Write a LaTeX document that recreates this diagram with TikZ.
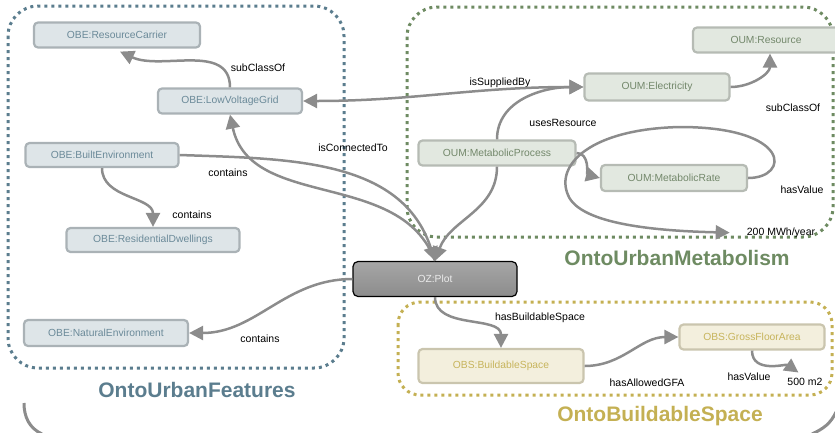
\documentclass[tikz,border=0pt]{standalone}
\usepackage{fontspec}
\setmainfont{Liberation Sans}
\usepackage{tikz}
\usetikzlibrary{arrows.meta,calc,positioning}
\definecolor{featblue}{HTML}{5B7D8E}
\definecolor{metagreen}{HTML}{6E8B62}
\definecolor{buildgold}{HTML}{C4B053}
\definecolor{linegray}{HTML}{8C8C8C}
\tikzset{
    rel/.style={-{Triangle[length=14pt,width=14pt]}, line width=2.5pt, draw=linegray},
    box/.style={rounded corners=4pt, line width=2.2pt, minimum height=25pt, inner sep=2pt,
                font=\fontsize{10.3}{12}\selectfont},
    obe/.style={box, draw=gray!60!featblue!60, fill=featblue!20, text=featblue!90},
    oum/.style={box, draw=gray!70!metagreen!55, fill=metagreen!20, text=metagreen!70!gray},
    obs/.style={box, draw=gray!55!buildgold!55, fill=buildgold!20, text=buildgold!95},
    el/.style={inner sep=1pt, font=\fontsize{10.5}{12}\selectfont, text=black},
    grp/.style={line width=3pt, dash pattern=on 3pt off 4pt, rounded corners=30pt},
    title/.style={font=\fontsize{21}{24}\selectfont\bfseries}
}

\begin{document}
\begin{tikzpicture}[x=1pt,y=1pt]
\useasboundingbox (0,0) rectangle (835,-432);

% ---- ontology frames ----
\draw[grp, draw=featblue] (8,-6) rectangle (344,-368);
\draw[grp, draw=metagreen] (407,-7) rectangle (833,-237);
\draw[grp, draw=buildgold, rounded corners=22pt] (398,-302) rectangle (832,-395);
\node[title, text=featblue] (tf) at (197,-390) {OntoUrbanFeatures};
\node[title, text=metagreen] (tm) at (677,-258) {OntoUrbanMetabolism};
\node[title, text=buildgold] (tb) at (660,-416) {OntoBuildableSpace};

% ---- outer frame (corners only) ----
\draw[line width=3pt, draw=linegray] (24,-403) to[out=-90,in=155] (42,-434);
\draw[line width=3pt, draw=linegray] (812,-434) to[out=25,in=-115] (836,-412);

% ---- OntoUrbanFeatures ----
\node[obe, minimum width=166pt] (rc) at (117,-35) {OBE:ResourceCarrier};
\node[obe, minimum width=144pt] (lvg) at (230,-101) {OBE:LowVoltageGrid};
\node[obe, minimum width=153pt, minimum height=24pt] (be) at (102,-155) {OBE:BuiltEnvironment};
\node[obe, minimum width=173pt, minimum height=24pt] (rd) at (153,-240) {OBE:ResidentialDwellings};
\node[obe, minimum width=164pt, minimum height=26pt] (ne) at (106,-333) {OBE:NaturalEnvironment};

% ---- plot ----
\node[box, minimum width=164pt, minimum height=35pt, rounded corners=5pt, line width=1.2pt,
      draw=black, top color=gray!70, bottom color=gray!90, text=white!92!black] (pl) at (435,-279) {OZ:Plot};

% ---- OntoUrbanMetabolism ----
\node[oum, minimum width=146pt] (res) at (766,-40) {OUM:Resource};
\node[oum, minimum width=145pt, minimum height=27pt] (el) at (657,-87) {OUM:Electricity};
\node[oum, minimum width=157pt] (mp) at (497,-153) {OUM:MetabolicProcess};
\node[oum, minimum width=146pt, minimum height=26pt] (mr) at (674,-178) {OUM:MetabolicRate};
\node[el] (v200) at (781,-233) {200 MWh/year};

% ---- OntoBuildableSpace ----
\node[obs, minimum width=165pt, minimum height=34pt] (bs) at (501,-366) {OBS:BuildableSpace};
\node[obs, minimum width=145pt] (gfa) at (752,-337) {OBS:GrossFloorArea};
\node[el] (v500) at (805,-382) {500 m2};

% ---- edge labels ----
\node[el] (l1) at (258,-68) {subClassOf};
\node[el] (l2) at (500,-83) {isSuppliedBy};
\node[el] (l3) at (563,-123) {usesResource};
\node[el] (l4) at (353,-148) {isConnectedTo};
\node[el] (l5) at (228,-173) {contains};
\node[el] (l6) at (192,-215) {contains};
\node[el] (l7) at (260,-339) {contains};
\node[el] (l8) at (793,-108) {subClassOf};
\node[el] (l9) at (802,-190) {hasValue};
\node[el] (l10) at (540,-318) {hasBuildableSpace};
\node[el] (l11) at (647,-383) {hasAllowedGFA};
\node[el] (l12) at (749,-377) {hasValue};

% ---- edges ----
\draw[rel] (lvg.north) to[out=90,in=-25] ([xshift=3pt,yshift=-3pt]rc.south);
\draw[rel, {Triangle[length=14pt,width=14pt]}-{Triangle[length=14pt,width=14pt]}]
  (lvg.east) to[out=0,in=180] (el.west);
\draw[rel] (mp.north) to[out=90,in=180] (el.west);
\draw[rel] (el.east) to[out=0,in=-90] ([xshift=4pt]res.south);
\draw[rel] (pl.north) to[out=110,in=-78] (lvg.south);
\draw[rel] (be.east) to[out=-2,in=108] (pl.north);
\draw[rel] (mp.south) to[out=-90,in=70] (pl.north);
\draw[rel] (be.south) to[out=-90,in=90] (rd.north);
\draw[rel] (pl.west) to[out=180,in=0] (ne.east);
\draw[rel] (mp.east) to[out=0,in=165] (mr.west);
\draw[rel, shorten >=16pt] (mr.east) .. controls (790,-178) and (792,-127) .. (680,-127)
  .. controls (590,-129) and (555,-165) .. (568,-195)
  .. controls (580,-225) and (660,-231) .. (v200.west);
\draw[rel] (pl.south) to[out=-90,in=90] (bs.north);
\draw[rel] (bs.east) to[out=0,in=180] (gfa.west);
\draw[rel, shorten >=8pt] (gfa.south) to[out=-90,in=145] (v500.north);

\end{tikzpicture}
\end{document}
